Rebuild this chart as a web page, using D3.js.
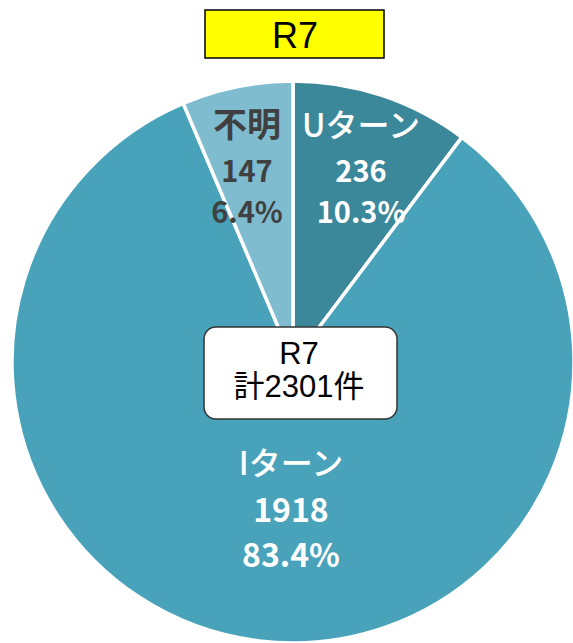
<!DOCTYPE html>
<html>
<head>
<meta charset="utf-8">
<script src="https://cdn.jsdelivr.net/npm/d3@7"></script>
<style>
  body { margin: 0; background: #fff; }
  svg { display: block; }
</style>
</head>
<body>
<div id="chart"></div>
<script>
// data
const year = "R7";
const categories = ["Uターン", "Iターン", "不明"];
const counts = [236, 1918, 147];
const percents = ["10.3%", "83.4%", "6.4%"];
const total = 2301;

const colors = ["#3b889b", "#47a2ba", "#7fbcd0"];
const textColors = ["#ffffff", "#ffffff", "#404040"];

// label anchors (centre x, name baseline) per slice, and sizes
const labelLayout = [
  { x: 361, y: 137, gap: [45, 41], size: 29, nameSize: 32 },
  { x: 291, y: 475, gap: [47, 45], size: 32, nameSize: 32 },
  { x: 247, y: 137, gap: [45, 41], size: 29, nameSize: 34 }
];

const width = 573, height = 643;
const cx = 293, cy = 362, radius = 281;

const svg = d3.select("#chart").append("svg")
  .attr("width", width)
  .attr("height", height);

const pie = d3.pie().sort(null).value(d => d.count);
const arc = d3.arc().innerRadius(0).outerRadius(radius);

const data = categories.map((c, i) => ({ name: c, count: counts[i], pct: percents[i], i: i }));

const g = svg.append("g").attr("transform", `translate(${cx},${cy})`);

g.selectAll("path")
  .data(pie(data))
  .join("path")
  .attr("d", arc)
  .attr("fill", d => colors[d.data.i])
  .attr("stroke", "#fff")
  .attr("stroke-width", 3.5)
  .attr("stroke-linejoin", "round");

// slice labels
const labels = svg.selectAll("text.lbl")
  .data(data)
  .join("text")
  .attr("class", "lbl")
  .attr("text-anchor", "middle")
  .attr("fill", d => textColors[d.i])
  .style("font-family", "'Noto Sans CJK JP', 'Noto Sans', sans-serif")
  .style("font-weight", "bold");

labels.append("tspan")
  .attr("x", d => labelLayout[d.i].x)
  .attr("y", d => labelLayout[d.i].y)
  .style("font-size", d => labelLayout[d.i].nameSize + "px")
  .style("font-weight", d => d.i === 2 ? "bold" : "500")
  .text(d => d.name);

labels.append("tspan")
  .attr("x", d => labelLayout[d.i].x)
  .attr("y", d => labelLayout[d.i].y + labelLayout[d.i].gap[0])
  .style("font-size", d => labelLayout[d.i].size + "px")
  .text(d => d.count);

labels.append("tspan")
  .attr("x", d => labelLayout[d.i].x)
  .attr("y", d => labelLayout[d.i].y + labelLayout[d.i].gap[0] + labelLayout[d.i].gap[1])
  .style("font-size", d => labelLayout[d.i].size + "px")
  .text(d => d.pct);

// centre box
svg.append("rect")
  .attr("x", 204).attr("y", 327)
  .attr("width", 193).attr("height", 92)
  .attr("rx", 12)
  .attr("fill", "#fff")
  .attr("stroke", "#333")
  .attr("stroke-width", 1.5);

const ctext = svg.append("text")
  .attr("text-anchor", "middle")
  .attr("fill", "#000")
  .style("font-family", "'Liberation Sans', Arial, 'Noto Sans CJK JP', sans-serif")
  .style("font-size", "31px");
ctext.append("tspan").attr("x", 299).attr("y", 364).text(year);
ctext.append("tspan").attr("x", 299).attr("y", 397).text("計" + total + "件");

// title box
svg.append("rect")
  .attr("x", 205).attr("y", 10)
  .attr("width", 179).attr("height", 48)
  .attr("fill", "#ffff00")
  .attr("stroke", "#000")
  .attr("stroke-width", 1.5);

svg.append("text")
  .attr("x", 295).attr("y", 48)
  .attr("text-anchor", "middle")
  .style("font-family", "'Liberation Sans', Arial, sans-serif")
  .style("font-size", "36px")
  .text(year);
</script>
</body>
</html>
